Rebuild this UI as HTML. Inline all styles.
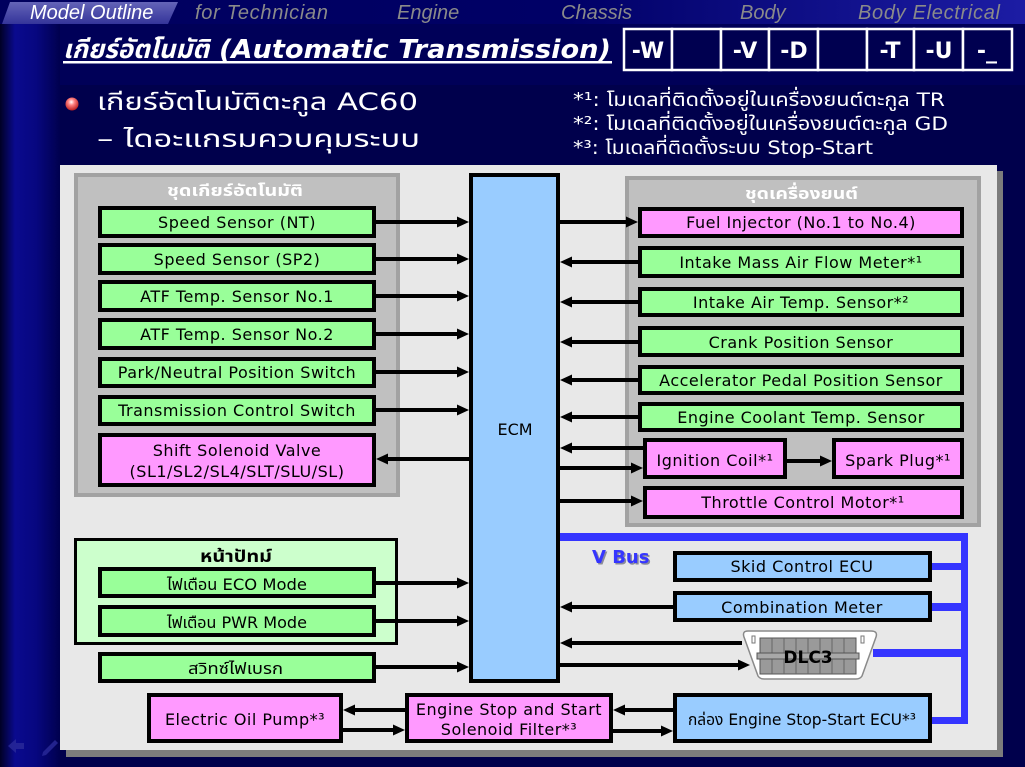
<!DOCTYPE html>
<html>
<head>
<meta charset="utf-8">
<style>
html,body{margin:0;padding:0;background:#000050;}
body{width:1025px;height:767px;overflow:hidden;}
svg{display:block;}
.t{font-family:"DejaVu Sans","Noto Sans Thai","Tahoma","Loma","Garuda","Waree","Noto Sans CJK SC",sans-serif;}
.b{font-size:16px;letter-spacing:0.5px;fill:#000;}
</style>
</head>
<body>
<svg width="1025" height="767" viewBox="0 0 1025 767" xmlns="http://www.w3.org/2000/svg">
<defs>
  <linearGradient id="hdr" x1="0" y1="0" x2="1" y2="0">
    <stop offset="0" stop-color="#00005e"/>
    <stop offset="0.55" stop-color="#000066"/>
    <stop offset="1" stop-color="#1c1ca4"/>
  </linearGradient>
  <linearGradient id="tab" x1="0" y1="0" x2="0" y2="1">
    <stop offset="0" stop-color="#6464b8"/>
    <stop offset="1" stop-color="#34349a"/>
  </linearGradient>
  <linearGradient id="strip" x1="0" y1="0" x2="1" y2="0">
    <stop offset="0" stop-color="#000024"/>
    <stop offset="0.25" stop-color="#0a0a8e"/>
    <stop offset="0.6" stop-color="#070780"/>
    <stop offset="1" stop-color="#00004e"/>
  </linearGradient>
  <radialGradient id="ball" cx="0.45" cy="0.35" r="0.7">
    <stop offset="0" stop-color="#ffffff"/>
    <stop offset="0.35" stop-color="#ff8080"/>
    <stop offset="1" stop-color="#b01010"/>
  </radialGradient>
  <marker id="a" markerWidth="12" markerHeight="11" refX="3" refY="5.5" orient="auto" markerUnits="userSpaceOnUse">
    <path d="M0,0 L12,5.5 L0,11 z" fill="#000"/>
  </marker>
</defs>

<!-- backgrounds -->
<rect x="0" y="0" width="1025" height="767" fill="#00004c"/>
<rect x="60" y="24" width="965" height="61" fill="#000058"/>
<rect x="0" y="24" width="60" height="743" fill="url(#strip)"/>
<rect x="0" y="0" width="1025" height="24" fill="url(#hdr)"/>
<polygon points="10,2 178,2 168,24 2,24" fill="url(#tab)"/>

<!-- top nav -->
<g font-family="Liberation Sans, sans-serif" font-style="italic" font-size="20">
  <text x="30" y="19" fill="#ffffff">Model Outline</text>
  <text x="195" y="19" fill="#8a8a8a" textLength="133">for Technician</text>
  <text x="397" y="19" fill="#8a8a8a">Engine</text>
  <text x="561" y="19" fill="#8a8a8a">Chassis</text>
  <text x="740" y="19" fill="#8a8a8a">Body</text>
  <text x="858" y="19" fill="#8a8a8a" textLength="142">Body Electrical</text>
</g>

<!-- title -->
<g class="t" font-weight="bold" font-style="italic" font-size="26" fill="#ffffff">
  <text x="63" y="58" textLength="146" lengthAdjust="spacingAndGlyphs">เกียร์อัตโนมัติ</text>
  <text x="219" y="58" textLength="392" lengthAdjust="spacingAndGlyphs">(Automatic Transmission)</text>
</g>
<rect x="63" y="61" width="549" height="2.5" fill="#ffffff"/>

<!-- code boxes -->
<g fill="#000050" stroke="#ffffff" stroke-width="2.5">
  <rect x="624" y="29" width="48" height="41"/>
  <rect x="672" y="29" width="49" height="41"/>
  <rect x="721" y="29" width="48" height="41"/>
  <rect x="769" y="29" width="49" height="41"/>
  <rect x="818" y="29" width="49" height="41"/>
  <rect x="867" y="29" width="47" height="41"/>
  <rect x="914" y="29" width="49" height="41"/>
  <rect x="963" y="29" width="49" height="41"/>
</g>
<g class="t" font-weight="bold" font-size="22" fill="#ffffff" text-anchor="middle">
  <text x="648" y="58">-W</text>
  <text x="745" y="58">-V</text>
  <text x="794" y="58">-D</text>
  <text x="890" y="58">-T</text>
  <text x="939" y="58">-U</text>
  <text x="987" y="58">-_</text>
</g>

<!-- bullet heading -->
<circle cx="72" cy="104" r="6.5" fill="url(#ball)"/>
<g class="t" font-size="24" fill="#ffffff">
  <text x="97" y="110" textLength="321" lengthAdjust="spacingAndGlyphs">เกียร์อัตโนมัติตะกูล AC60</text>
  <text x="97" y="147" textLength="323" lengthAdjust="spacingAndGlyphs">– ไดอะแกรมควบคุมระบบ</text>
</g>

<!-- footnotes -->
<g class="t" font-size="19" fill="#ffffff">
  <text x="573" y="106" textLength="372" lengthAdjust="spacingAndGlyphs">*¹: โมเดลที่ติดตั้งอยู่ในเครื่องยนต์ตะกูล TR</text>
  <text x="573" y="130" textLength="375" lengthAdjust="spacingAndGlyphs">*²: โมเดลที่ติดตั้งอยู่ในเครื่องยนต์ตะกูล GD</text>
  <text x="573" y="154" textLength="300" lengthAdjust="spacingAndGlyphs">*³: โมเดลที่ติดตั้งระบบ Stop-Start</text>
</g>

<!-- diagram panel -->
<rect x="66" y="171" width="937" height="586" fill="#7c7c7c"/>
<rect x="60" y="165" width="937" height="585" fill="#e8e8e8"/>

<!-- left group -->
<rect x="76" y="175" width="322" height="320" fill="#c0c0c0" stroke="#a2a2a2" stroke-width="4"/>
<text class="t" x="167" y="196" font-size="16" font-weight="bold" fill="#ffffff" textLength="136" lengthAdjust="spacingAndGlyphs">ชุดเกียร์อัตโนมัติ</text>

<!-- right group -->
<rect x="627" y="178" width="352" height="347" fill="#c0c0c0" stroke="#a2a2a2" stroke-width="4"/>
<text class="t" x="745" y="199" font-size="16" font-weight="bold" fill="#ffffff" textLength="113" lengthAdjust="spacingAndGlyphs">ชุดเครื่องยนต์</text>

<!-- dashboard group -->
<rect x="75.5" y="539.5" width="321" height="104" fill="#ccffcc" stroke="#000" stroke-width="3"/>
<text class="t" x="200" y="562" font-size="17" font-weight="bold" fill="#000" textLength="72" lengthAdjust="spacingAndGlyphs">หน้าปัทม์</text>

<!-- blue V bus -->
<g fill="#3535ff">
  <rect x="560" y="533" width="408" height="8"/>
  <rect x="961" y="533" width="7" height="191"/>
  <rect x="932" y="563" width="32" height="7"/>
  <rect x="932" y="603" width="32" height="8"/>
  <rect x="873" y="649" width="91" height="8"/>
  <rect x="932" y="717" width="36" height="7"/>
</g>
<text x="593.5" y="564.5" font-family="DejaVu Sans, sans-serif" font-weight="bold" font-size="18" fill="#8a8a9a">V Bus</text>
<text x="592" y="563" font-family="DejaVu Sans, sans-serif" font-weight="bold" font-size="18" fill="#3535ff">V Bus</text>

<!-- ECM -->
<rect x="471" y="175" width="87" height="506" fill="#99ccff" stroke="#000" stroke-width="4"/>
<text class="t" x="515" y="435" font-size="16" text-anchor="middle" fill="#000">ECM</text>

<!-- boxes -->
<g stroke="#000" stroke-width="4">
  <rect x="100" y="208" width="274" height="28" fill="#99ff99"/>
  <rect x="100" y="245" width="274" height="28" fill="#99ff99"/>
  <rect x="100" y="282" width="274" height="28" fill="#99ff99"/>
  <rect x="100" y="320" width="274" height="28" fill="#99ff99"/>
  <rect x="100" y="359" width="274" height="27" fill="#99ff99"/>
  <rect x="100" y="397" width="274" height="27" fill="#99ff99"/>
  <rect x="100" y="435" width="274" height="50" fill="#ff99ff"/>
  <rect x="100" y="569" width="274" height="27" fill="#99ff99"/>
  <rect x="100" y="607" width="274" height="28" fill="#99ff99"/>
  <rect x="100" y="654" width="274" height="27" fill="#99ff99"/>
  <rect x="640" y="209" width="322" height="27" fill="#ff99ff"/>
  <rect x="640" y="248" width="322" height="28" fill="#99ff99"/>
  <rect x="640" y="289" width="322" height="26" fill="#99ff99"/>
  <rect x="640" y="328" width="322" height="27" fill="#99ff99"/>
  <rect x="640" y="367" width="322" height="26" fill="#99ff99"/>
  <rect x="640" y="404" width="322" height="26" fill="#99ff99"/>
  <rect x="645" y="440" width="140" height="37" fill="#ff99ff"/>
  <rect x="834" y="440" width="128" height="37" fill="#ff99ff"/>
  <rect x="645" y="488" width="317" height="29" fill="#ff99ff"/>
  <rect x="675" y="553" width="255" height="27" fill="#99ccff"/>
  <rect x="675" y="593" width="255" height="27" fill="#99ccff"/>
  <rect x="675" y="695" width="255" height="46" fill="#99ccff"/>
  <rect x="407" y="695" width="204" height="46" fill="#ff99ff"/>
  <rect x="149" y="695" width="192" height="46" fill="#ff99ff"/>
</g>

<!-- box labels -->
<g class="t b" text-anchor="middle">
  <text x="237" y="228">Speed Sensor (NT)</text>
  <text x="237" y="265">Speed Sensor (SP2)</text>
  <text x="237" y="302">ATF Temp. Sensor No.1</text>
  <text x="237" y="340">ATF Temp. Sensor No.2</text>
  <text x="237" y="378">Park/Neutral Position Switch</text>
  <text x="237" y="416">Transmission Control Switch</text>
  <text x="237" y="456">Shift Solenoid Valve</text>
  <text x="237" y="477">(SL1/SL2/SL4/SLT/SLU/SL)</text>

  <text x="801" y="228">Fuel Injector (No.1 to No.4)</text>
  <text x="801" y="268">Intake Mass Air Flow Meter*¹</text>
  <text x="801" y="308">Intake Air Temp. Sensor*²</text>
  <text x="801" y="348">Crank Position Sensor</text>
  <text x="801" y="386">Accelerator Pedal Position Sensor</text>
  <text x="801" y="423">Engine Coolant Temp. Sensor</text>
  <text x="715" y="466">Ignition Coil*¹</text>
  <text x="898" y="466">Spark Plug*¹</text>
  <text x="803" y="508">Throttle Control Motor*¹</text>

  <text x="802" y="572">Skid Control ECU</text>
  <text x="802" y="613">Combination Meter</text>

  <text x="509" y="715">Engine Stop and Start</text>
  <text x="509" y="735">Solenoid Filter*³</text>
  <text x="245" y="725">Electric Oil Pump*³</text>
</g>
<g class="t" font-size="16" fill="#000">
  <text x="167" y="590" textLength="140" lengthAdjust="spacingAndGlyphs">ไฟเตือน ECO Mode</text>
  <text x="167" y="628" textLength="140" lengthAdjust="spacingAndGlyphs">ไฟเตือน PWR Mode</text>
  <text x="188" y="674" textLength="95" lengthAdjust="spacingAndGlyphs">สวิทซ์ไฟเบรก</text>
  <text x="688" y="725" textLength="228" lengthAdjust="spacingAndGlyphs">กล่อง Engine Stop-Start ECU*³</text>
</g>

<!-- DLC3 -->
<path d="M748,631 L871,631 Q878,631 876,637 L862,676 Q860,679 856,679 L764,679 Q760,679 758,676 L744,637 Q742,631 748,631 Z" fill="#ffffff" stroke="#8a8a8a" stroke-width="1.5"/>
<rect x="760" y="638" width="96" height="36" fill="#9a9a9a" stroke="#555" stroke-width="1"/>
<g stroke="#666" stroke-width="1">
  <line x1="772" y1="638" x2="772" y2="674"/>
  <line x1="784" y1="638" x2="784" y2="674"/>
  <line x1="796" y1="638" x2="796" y2="674"/>
  <line x1="808" y1="638" x2="808" y2="674"/>
  <line x1="820" y1="638" x2="820" y2="674"/>
  <line x1="832" y1="638" x2="832" y2="674"/>
  <line x1="844" y1="638" x2="844" y2="674"/>
</g>
<rect x="757" y="653" width="102" height="6" fill="#a8a8a8" stroke="#555" stroke-width="1"/>
<rect x="752" y="636" width="3" height="7" fill="none" stroke="#777" stroke-width="1"/>
<rect x="861" y="636" width="3" height="7" fill="none" stroke="#777" stroke-width="1"/>
<text x="808" y="663" font-family="DejaVu Sans, sans-serif" font-weight="bold" font-size="17" text-anchor="middle" fill="#000">DLC3</text>

<!-- arrows -->
<g stroke="#000" stroke-width="4" fill="none" marker-end="url(#a)">
  <path d="M376,222 H460"/>
  <path d="M376,259 H460"/>
  <path d="M376,296 H460"/>
  <path d="M376,334 H460"/>
  <path d="M376,372 H460"/>
  <path d="M376,410 H460"/>
  <path d="M469,459 H385"/>
  <path d="M376,583 H460"/>
  <path d="M376,621 H460"/>
  <path d="M376,667 H460"/>

  <path d="M560,222 H629"/>
  <path d="M638,262 H569"/>
  <path d="M638,302 H569"/>
  <path d="M638,342 H569"/>
  <path d="M638,380 H569"/>
  <path d="M638,417 H569"/>
  <path d="M643,448 H569"/>
  <path d="M560,468 H634"/>
  <path d="M787,461 H823"/>
  <path d="M560,501 H634"/>

  <path d="M673,607 H569"/>
  <path d="M742,643 H569"/>
  <path d="M560,665 H741"/>

  <path d="M673,710 H622"/>
  <path d="M613,731 H664"/>
  <path d="M405,710 H352"/>
  <path d="M343,730 H396"/>
</g>

<!-- faint bottom-left nav icons -->
<g fill="#2a2a9a" opacity="0.8">
  <polygon points="8,746 16,739 16,743 24,743 24,749 16,749 16,753"/>
  <polygon points="43,752 55,740 58,743 46,755 42,756"/>
</g>
</svg>
</body>
</html>
